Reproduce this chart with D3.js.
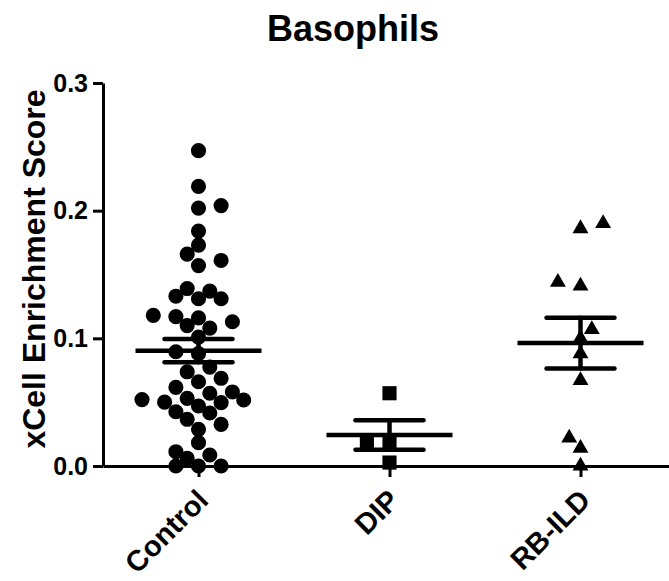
<!DOCTYPE html>
<html>
<head>
<meta charset="utf-8">
<script src="https://cdn.jsdelivr.net/npm/d3@7"></script>
<style>
  body { margin: 0; background: #fff; }
  svg { font-family: "Liberation Sans", Arial, Helvetica, sans-serif; font-weight: bold; }
</style>
</head>
<body>
<svg id="chart"></svg>
<script>
var groups = ["Control", "DIP", "RB-ILD"];

var controlValues = [0.247, 0.219, 0.204, 0.202, 0.184, 0.173, 0.166, 0.161, 0.157, 0.139,
                     0.137, 0.133, 0.131, 0.131, 0.118, 0.117, 0.116, 0.113, 0.110, 0.108,
                     0.101, 0.0895, 0.088, 0.0775, 0.0738, 0.0687, 0.066, 0.0616, 0.058, 0.053,
                     0.052, 0.0517, 0.050, 0.0496, 0.057, 0.047, 0.0425, 0.0415, 0.0366, 0.0326,
                     0.0287, 0.0183, 0.0112, 0.0086, 0.006, 0.0, 0.0, 0.0];
var dipValues = [0.057, 0.019, 0.0185, 0.0027];
var rbildValues = [0.190, 0.186, 0.144, 0.141, 0.107, 0.100, 0.088, 0.067, 0.022, 0.014, 0.0];

var yTicks = [0, 0.1, 0.2, 0.3];
var title = "Basophils";
var yTitle = "xCell Enrichment Score";

var screen = { width: 669, height: 581 };
var plot = { left: 103, right: 676, top: 83, bottom: 466 };

var svg = d3.select("#chart")
  .attr("width", screen.width)
  .attr("height", screen.height);

var xScale = d3.scalePoint()
  .domain(groups)
  .range([plot.left, plot.right])
  .padding(0.5);

var yScale = d3.scaleLinear()
  .domain([0, 0.3])
  .range([plot.bottom, plot.top]);

var series = [
  { name: "Control", values: controlValues, symbol: d3.symbolCircle, size: 180 },
  { name: "DIP", values: dipValues, symbol: d3.symbolSquare, size: 200 },
  { name: "RB-ILD", values: rbildValues, symbol: d3.symbolTriangle, size: 110 }
];

// simple beeswarm: columns every half-ish symbol, nearest free column wins
// (a bit of overlap allowed, like Prism does)
var swarm = function(values, step, minDist)
{
  var placed = [];
  values.slice().sort(d3.ascending).forEach(function(v)
  {
    var y = yScale(v);
    for (var k = 0; k < 30; k++)
    {
      var left = placed.filter(function(p) { return p.k < 0; }).length;
      var right = placed.filter(function(p) { return p.k > 0; }).length;
      var cands = k === 0 ? [0] : (left <= right ? [-k, k] : [k, -k]);
      var hit = cands.find(function(c)
      {
        return placed.every(function(p)
        {
          var ddx = (c - p.k) * step, ddy = y - p.y;
          return Math.sqrt(ddx * ddx + ddy * ddy) >= minDist;
        });
      });
      if (hit !== undefined)
      {
        placed.push({ v: v, y: y, k: hit, dx: hit * step });
        break;
      }
    }
  });
  return placed;
};

// points
series.forEach(function(s)
{
  var pts = swarm(s.values, 11.3, 13);
  svg.append("g")
    .selectAll("path")
    .data(pts)
    .enter()
    .append("path")
    .attr("d", d3.symbol().type(s.symbol).size(s.size))
    .attr("transform", function(d)
    {
      return "translate(" + (xScale(s.name) + d.dx) + "," + d.y + ")";
    })
    .attr("fill", "black");
});

// mean and SEM bars
series.forEach(function(s)
{
  var m = d3.mean(s.values);
  var sem = d3.deviation(s.values) / Math.sqrt(s.values.length);
  var cx = xScale(s.name);
  var g = svg.append("g")
    .attr("stroke", "black")
    .attr("stroke-width", 4.5)
    .attr("stroke-linecap", "round");
  g.append("line")
    .attr("x1", cx).attr("x2", cx)
    .attr("y1", yScale(m - sem)).attr("y2", yScale(m + sem));
  [m - sem, m + sem].forEach(function(v)
  {
    g.append("line")
      .attr("x1", cx - 34).attr("x2", cx + 34)
      .attr("y1", yScale(v)).attr("y2", yScale(v));
  });
  g.append("line")
    .attr("x1", cx - 63).attr("x2", cx + 63)
    .attr("y1", yScale(m)).attr("y2", yScale(m))
    .attr("stroke-linecap", "butt");
});

// axes
var yAxis = d3.axisLeft(yScale)
  .tickValues(yTicks)
  .tickSize(10)
  .tickSizeOuter(0)
  .tickPadding(5)
  .tickFormat(d3.format(".1f"));

var xAxis = d3.axisBottom(xScale)
  .tickSize(11)
  .tickSizeOuter(0);

var yAxisGraphic = svg.append("g")
  .attr("transform", "translate(" + plot.left + ",0)")
  .call(yAxis);

var xAxisGraphic = svg.append("g")
  .attr("transform", "translate(0," + plot.bottom + ")")
  .call(xAxis);

[yAxisGraphic, xAxisGraphic].forEach(function(a)
{
  a.selectAll("path, line").attr("stroke", "black").attr("stroke-width", 3);
  a.selectAll("text")
    .attr("fill", "black")
    .style("font-size", "25px")
    .style("font-weight", "bold")
    .style("font-family", "'Liberation Sans', Arial, sans-serif");
});

xAxisGraphic.selectAll("text")
  .attr("x", 0).attr("y", 0).attr("dy", 0)
  .attr("text-anchor", "end")
  .style("font-size", "29px")
  .attr("transform", "translate(11,36) rotate(-45)");

// titles
svg.append("text")
  .attr("x", 353)
  .attr("y", 41)
  .attr("text-anchor", "middle")
  .style("font-size", "36px")
  .text(title);

svg.append("text")
  .attr("transform", "translate(45,269) rotate(-90)")
  .attr("text-anchor", "middle")
  .style("font-size", "32px")
  .text(yTitle);
</script>
</body>
</html>
